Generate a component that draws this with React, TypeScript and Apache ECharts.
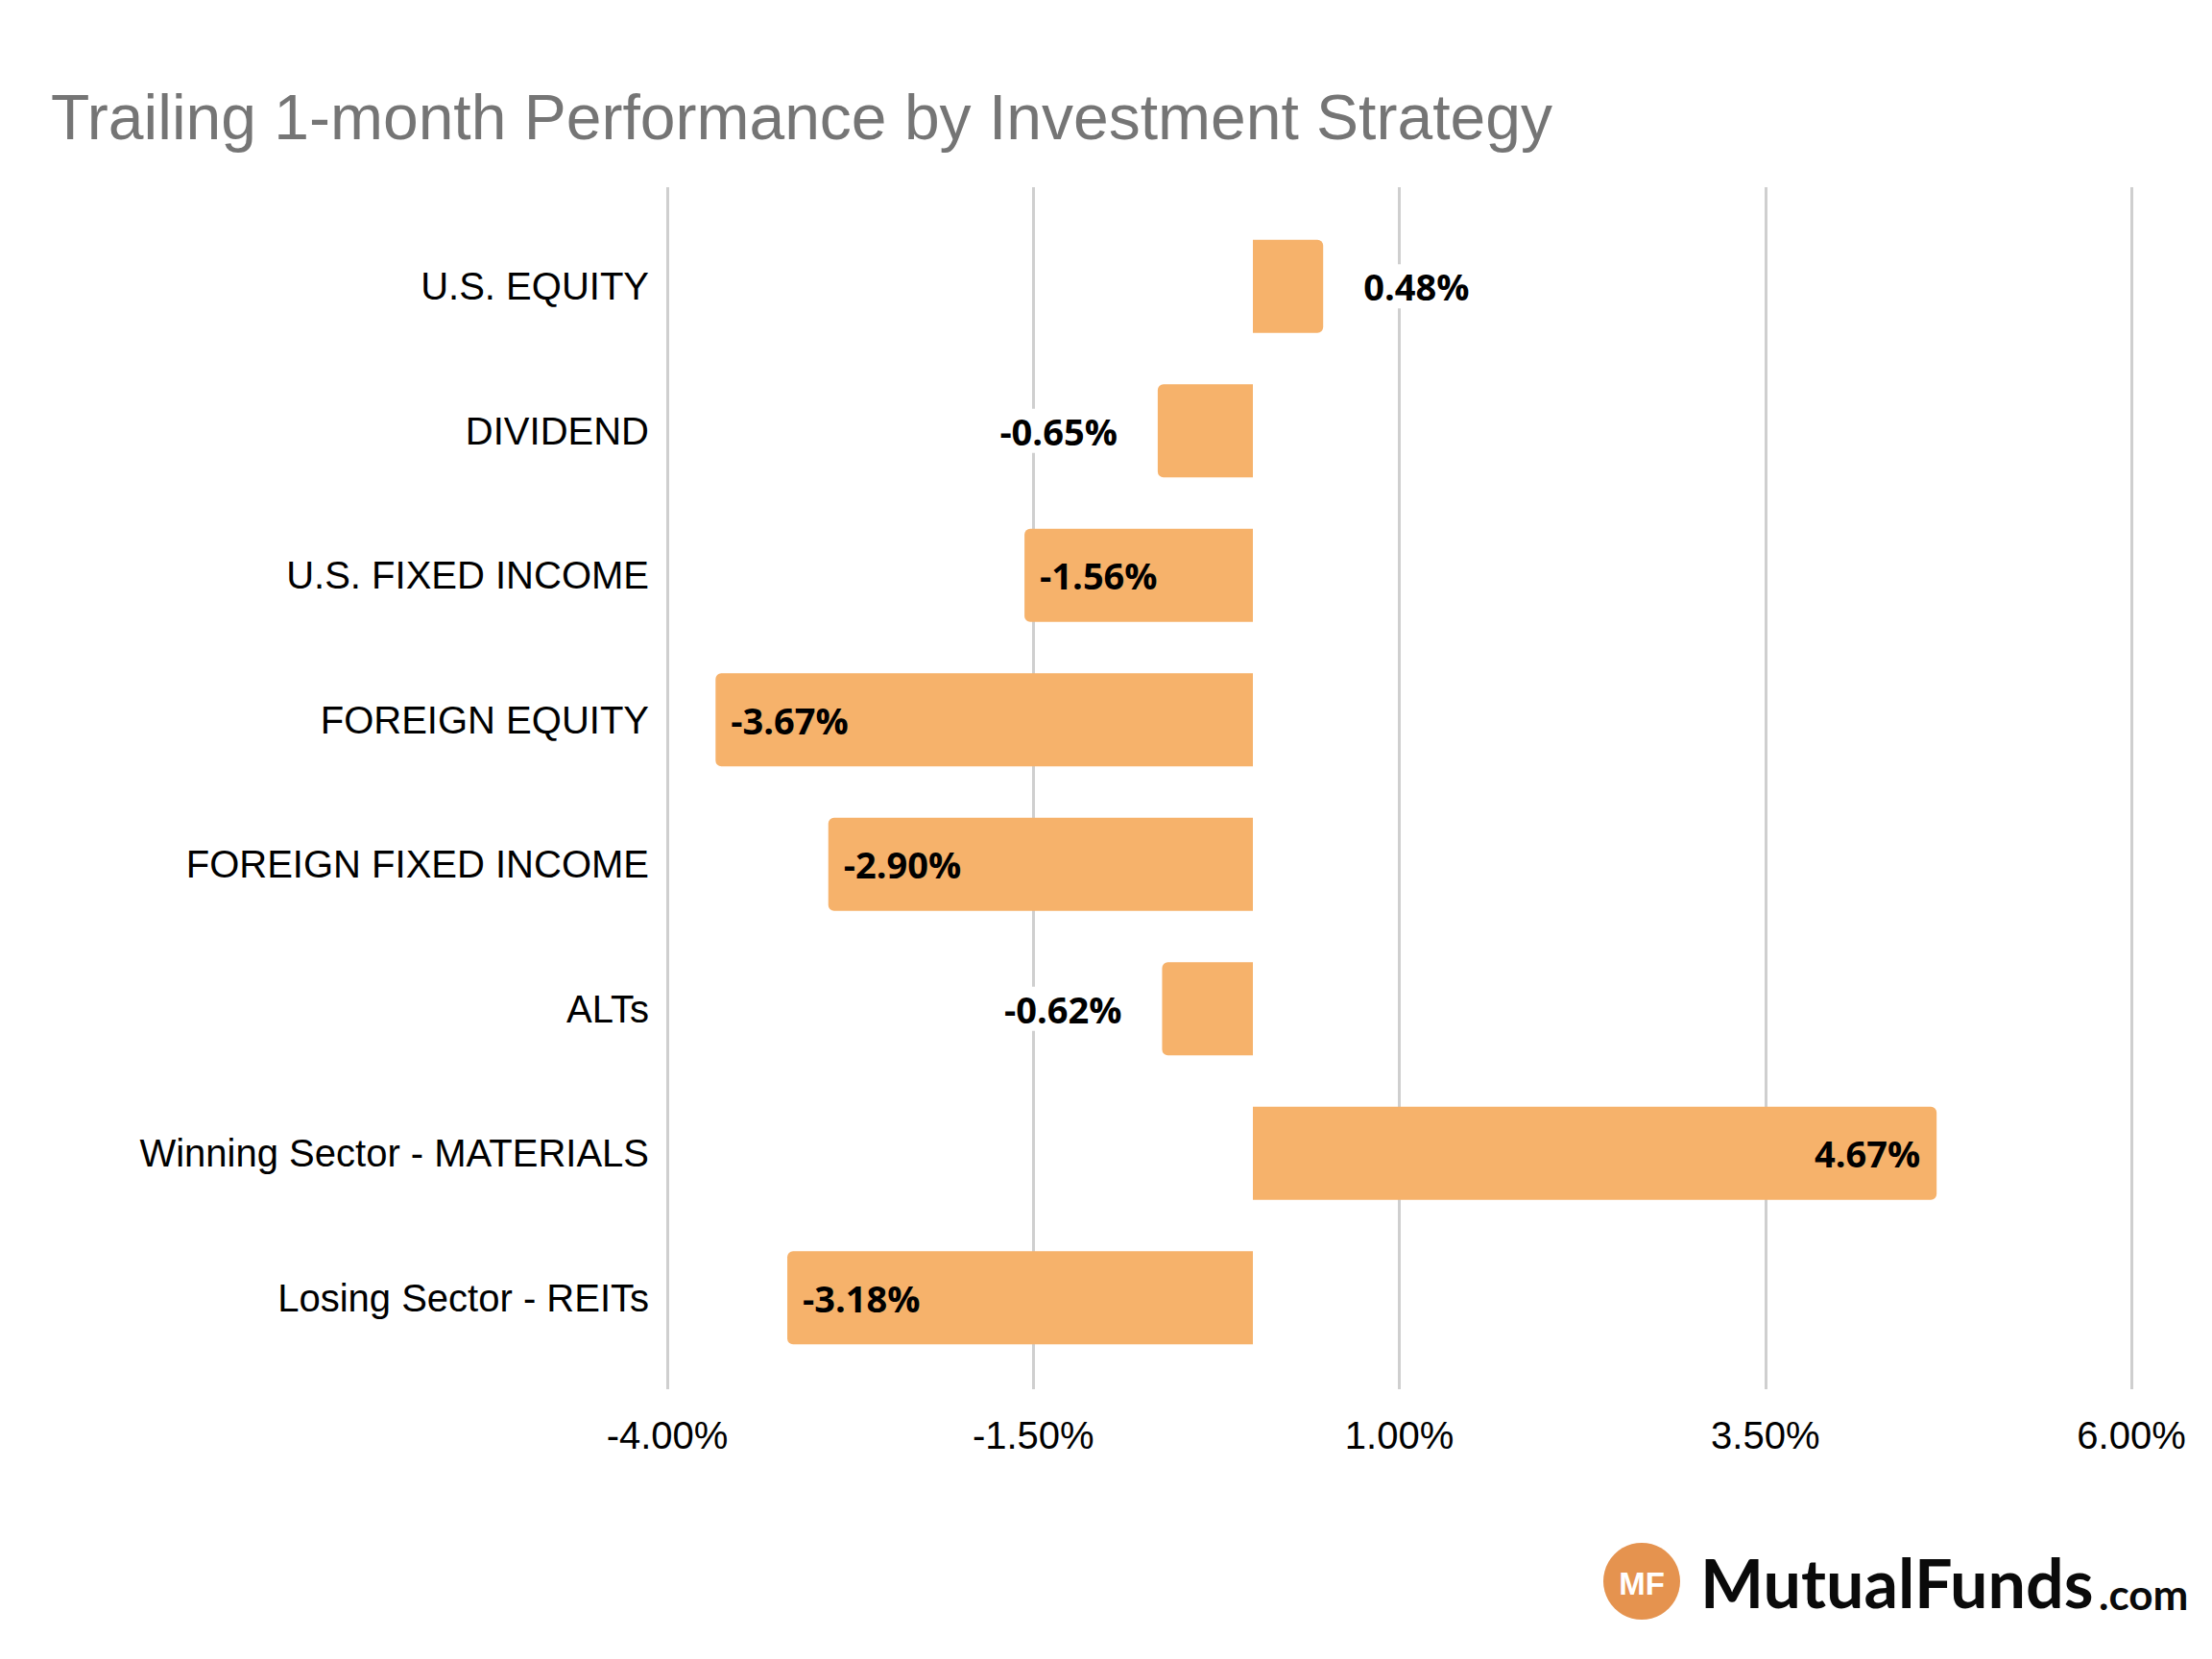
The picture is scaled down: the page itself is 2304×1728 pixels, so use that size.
import React, { useEffect, useRef } from 'react';
import * as echarts from 'echarts';

const titleText = 'Trailing 1-month Performance by Investment Strategy';
const categories = [
  'U.S. EQUITY',
  'DIVIDEND',
  'U.S. FIXED INCOME',
  'FOREIGN EQUITY',
  'FOREIGN FIXED INCOME',
  'ALTs',
  'Winning Sector - MATERIALS',
  'Losing Sector - REITs',
];
const values = [0.48, -0.65, -1.56, -3.67, -2.9, -0.62, 4.67, -3.18];
const labelPositions = ['right', 'left', 'insideLeft', 'insideLeft', 'insideLeft', 'left', 'insideRight', 'insideLeft'];
const xTicks = [-4, -1.5, 1, 3.5, 6];

const labelDistances: Record<string, number> = { right: 42, left: 42, insideLeft: 16, insideRight: 17 };

export default function App() {
  const ref = useRef<HTMLDivElement>(null);
  useEffect(() => {
    document.body.style.margin = '0';
    const chart = echarts.init(ref.current as HTMLDivElement, null, { renderer: 'svg' });
    const fmt = (v: number) => v.toFixed(2) + '%';
    chart.setOption({
      animation: false,
      backgroundColor: '#ffffff',
      title: {
        text: titleText,
        left: 48,
        top: 84,
        textStyle: { fontFamily: 'Liberation Sans', fontSize: 66, fontWeight: 'normal', color: '#757575' },
      },
      grid: [
        { left: 695, right: 84, top: 195, bottom: 281 },
        { left: 695, right: 84, top: 223, bottom: 301 },
      ],
      xAxis: [
        {
          gridIndex: 0,
          type: 'value',
          min: -4,
          max: 6,
          axisLine: { show: false },
          axisTick: { show: false, customValues: xTicks },
          axisLabel: {
            customValues: xTicks,
            showMinLabel: true,
            showMaxLabel: true,
            formatter: (v: number) => fmt(v),
            fontFamily: 'Liberation Sans',
            fontSize: 40,
            color: '#000000',
            margin: 28,
          },
          splitLine: { show: true, lineStyle: { color: '#CFCFCF', width: 3 } },
        },
        { gridIndex: 1, type: 'value', min: -4, max: 6, show: false },
      ],
      yAxis: [
        { gridIndex: 0, type: 'category', data: categories, show: false },
        {
          gridIndex: 1,
          type: 'category',
          data: categories,
          inverse: true,
          axisLine: { show: false },
          axisTick: { show: false },
          splitLine: { show: false },
          axisLabel: {
            fontFamily: 'Liberation Sans',
            fontSize: 40,
            color: '#000000',
            margin: 19,
          },
        },
      ],
      series: [
        {
          type: 'bar',
          xAxisIndex: 1,
          yAxisIndex: 1,
          barCategoryGap: '35.5%',
          data: values.map((v, i) => {
            const pos = labelPositions[i];
            const outside = pos === 'left' || pos === 'right';
            return {
              value: v,
              itemStyle: {
                color: '#F6B26B',
                borderRadius: v >= 0 ? [0, 6, 6, 0] : [6, 0, 0, 6],
              },
              label: {
                show: true,
                position: pos,
                distance: labelDistances[pos],
                formatter: () => fmt(v),
                fontFamily: 'Open Sans',
                fontWeight: 'bold',
                fontSize: 38,
                color: '#000000',
                backgroundColor: outside ? '#ffffff' : 'transparent',
                padding: outside ? [4, 0] : 0,
              },
            };
          }),
        },
      ],
      graphic: [
        {
          type: 'circle',
          shape: { cx: 1710, cy: 1647, r: 40 },
          style: { fill: '#E5934F' },
        },
        {
          type: 'text',
          x: 1710,
          y: 1649,
          style: {
            text: 'MF',
            fill: '#ffffff',
            font: 'bold 33px "Liberation Sans"',
            align: 'center',
            verticalAlign: 'middle',
          },
        },
        {
          type: 'text',
          x: 1771,
          y: 1648,
          style: {
            text: 'MutualFunds',
            fill: '#0a0a0a',
            font: 'bold 70px "Lato"',
            align: 'left',
            verticalAlign: 'middle',
          },
        },
        {
          type: 'text',
          x: 2186,
          y: 1660,
          style: {
            text: '.com',
            fill: '#0a0a0a',
            font: 'bold 44px "Lato"',
            align: 'left',
            verticalAlign: 'middle',
          },
        },
      ],
    });
    return () => chart.dispose();
  }, []);
  return <div ref={ref} style={{ width: 2304, height: 1728 }} />;
}
